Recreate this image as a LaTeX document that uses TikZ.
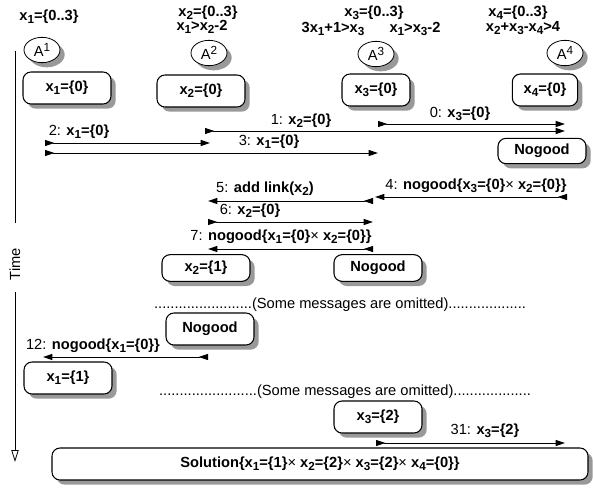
\documentclass[tikz,border=0pt]{standalone}
\usepackage{fontspec}
\setmainfont{Liberation Sans}
\usetikzlibrary{shapes.geometric,shadows,arrows.meta}
\newcommand{\vx}[1]{x\raisebox{-2.3pt}{\fontsize{8.8}{9}\selectfont #1}}
\newcommand{\ag}[1]{A\raisebox{3.2pt}{\fontsize{8.8}{9}\selectfont #1}}
\begin{document}
\begin{tikzpicture}[
        x=0.75pt, y=-0.75pt,
        every node/.style={font=\fontsize{11}{13}\selectfont},
        shade/.style={drop shadow={shadow xshift=3.5pt, shadow yshift=-3.5pt, fill=black!40, opacity=1}},
        state/.style={draw, rounded corners=6pt, line width=0.8pt, fill=white, minimum width=66pt, minimum height=24pt, font=\fontsize{11}{13}\selectfont\bfseries, shade},
        agent/.style={draw, ellipse, fill=white, line width=0.6pt, minimum width=27pt, minimum height=19pt, inner sep=0.5pt, shade},
        cons/.style={inner sep=0pt, font=\fontsize{11}{13}\selectfont\bfseries},
        lbl/.style={inner sep=0pt},
        msg/.style={line width=0.7pt, {Triangle[reversed,length=7pt,width=4.5pt]}-{Triangle[length=7pt,width=4.5pt]}},
    ]
    \useasboundingbox (0,0) rectangle (593,489);
    % domains and constraints
    \node[cons] (d1) at (49,17) {\vx1=\{0..3\}};
    \node[cons] (d2) at (208,13) {\vx2=\{0..3\}};
    \node[cons] (c12) at (202,27) {\vx1>\vx2-2};
    \node[cons] (d3) at (374,13) {\vx3=\{0..3\}};
    \node[cons] (c13a) at (333,29) {3\vx1+1>\vx3};
    \node[cons] (c13b) at (415,29) {\vx1>\vx3-2};
    \node[cons] (d4) at (518,13) {\vx4=\{0..3\}};
    \node[cons] (c234) at (523,28) {\vx2+\vx3-\vx4>4};
    % agents
    \node[agent] (a1) at (42,50) {\ag1};
    \node[agent] (a2) at (209,53) {\ag2};
    \node[agent] (a3) at (376,54) {\ag3};
    \node[agent] (a4) at (565,53) {\ag4};
    % states
    \node[state] (s1) at (67,88) {\vx1=\{0\}};
    \node[state] (s2) at (201,91) {\vx2=\{0\}};
    \node[state, minimum width=51pt] (s3) at (376,90) {\vx3=\{0\}};
    \node[state, minimum width=49pt] (s4) at (545,90) {\vx4=\{0\}};
    \node[state, minimum height=19pt] (ng1) at (542,151) {Nogood};
    \node[state, minimum height=20pt] (s2b) at (206,268) {\vx2=\{1\}};
    \node[state, minimum height=20pt] (ng2) at (378,268) {Nogood};
    \node[state] (ng3) at (210,329) {Nogood};
    \node[state] (s1b) at (68,378) {\vx1=\{1\}};
    \node[state] (s3b) at (378,417) {\vx3=\{2\}};
    \node[state, minimum width=402pt] (sol) at (320,464) {Solution\{\vx1=\{1\}\textnormal{×} \vx2=\{2\}\textnormal{×} \vx3=\{2\}\textnormal{×} \vx4=\{0\}\}};
    % omitted parts
    \node[lbl] (om1) at (340,305) {........................(Some messages are omitted)...................};
    \node[lbl] (om2) at (345,392) {........................(Some messages are omitted)...................};
    % time axis
    \coordinate (t0) at (15,51);
    \coordinate (t1) at (15,223);
    \node[rotate=90] (time) at (15,264) {Time};
    \coordinate (t2) at (15,292);
    \coordinate (t3) at (15,462);
    \draw[line width=0.6pt] (t0) -- (t1);
    \draw[line width=0.6pt, -{Triangle[open,length=9pt,width=5.5pt]}] (t2) -- (t3);
    % messages
    \coordinate (m0s) at (378,124); \coordinate (m0e) at (565,124);
    \coordinate (m1s) at (205,131); \coordinate (m1e) at (565,131);
    \coordinate (m2s) at (45,143); \coordinate (m2e) at (210,143);
    \coordinate (m3s) at (45,153); \coordinate (m3e) at (378,153);
    \coordinate (m4s) at (567,197); \coordinate (m4e) at (375,197);
    \coordinate (m5s) at (373,201); \coordinate (m5e) at (208,201);
    \coordinate (m6s) at (208,222); \coordinate (m6e) at (373,222);
    \coordinate (m7s) at (373,249); \coordinate (m7e) at (208,249);
    \coordinate (m12s) at (208,357); \coordinate (m12e) at (43,357);
    \coordinate (m31s) at (376,443); \coordinate (m31e) at (565,443);
    \draw[msg] (m0s) -- (m0e);
    \draw[msg] (m1s) -- (m1e);
    \draw[msg] (m2s) -- (m2e);
    \draw[msg] (m3s) -- (m3e);
    \draw[msg] (m4s) -- (m4e);
    \draw[msg] (m5s) -- (m5e);
    \draw[msg] (m6s) -- (m6e);
    \draw[msg] (m7s) -- (m7e);
    \draw[msg] (m12s) -- (m12e);
    \draw[msg] (m31s) -- (m31e);
    % message labels
    \node[lbl] (l0) at (460,114) {0: \textbf{\vx3=\{0\}}};
    \node[lbl] (l1) at (301,121) {1: \textbf{\vx2=\{0\}}};
    \node[lbl] (l2) at (79,132) {2: \textbf{\vx1=\{0\}}};
    \node[lbl] (l3) at (269,142) {3: \textbf{\vx1=\{0\}}};
    \node[lbl] (l4) at (476,186) {4: \textbf{nogood\{\vx3=\{0\}}×\textbf{ \vx2=\{0\}\}}};
    \node[lbl] (l5) at (265,189) {5: \textbf{add link(\vx2)}};
    \node[lbl] (l6) at (250,211) {6: \textbf{\vx2=\{0\}}};
    \node[lbl] (l7) at (281,237) {7: \textbf{nogood\{\vx1=\{0\}}×\textbf{ \vx2=\{0\}\}}};
    \node[lbl] (l12) at (93,346) {12: \textbf{nogood\{\vx1=\{0\}\}}};
    \node[lbl] (l31) at (485,431) {31: \textbf{\vx3=\{2\}}};
\end{tikzpicture}
\end{document}
